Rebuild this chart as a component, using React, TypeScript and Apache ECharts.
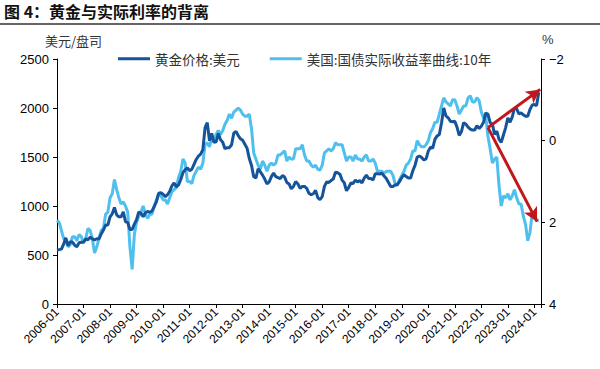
import React, { useEffect, useRef } from "react";
import * as echarts from "echarts";

const startYear = 2006;
const xMin = 2006;
const xMax = 2024.25;

const goldPrice = [
  550, 555, 560, 610, 675, 595, 635, 630, 600, 585, 625, 630,
  630, 665, 655, 680, 665, 655, 665, 665, 715, 755, 805, 805,
  890, 920, 985, 910, 890, 890, 940, 840, 830, 760, 760, 815,
  860, 940, 925, 890, 930, 945, 935, 950, 995, 1045, 1130, 1135,
  1120, 1095, 1115, 1150, 1205, 1235, 1195, 1215, 1270, 1340, 1370, 1390,
  1360, 1375, 1425, 1475, 1510, 1530, 1575, 1800, 1850, 1665, 1740, 1650,
  1655, 1740, 1675, 1650, 1585, 1595, 1595, 1625, 1745, 1760, 1720, 1685,
  1670, 1630, 1590, 1485, 1415, 1300, 1285, 1380, 1350, 1315, 1275, 1225,
  1245, 1300, 1335, 1300, 1290, 1280, 1310, 1295, 1240, 1225, 1175, 1200,
  1250, 1225, 1180, 1200, 1200, 1180, 1130, 1115, 1125, 1160, 1085, 1065,
  1095, 1200, 1245, 1240, 1260, 1275, 1345, 1340, 1325, 1265, 1235, 1155,
  1190, 1235, 1230, 1265, 1245, 1260, 1235, 1285, 1315, 1280, 1280, 1265,
  1330, 1330, 1325, 1335, 1305, 1280, 1240, 1200, 1200, 1215, 1220, 1250,
  1290, 1320, 1300, 1285, 1285, 1360, 1415, 1500, 1510, 1495, 1470, 1480,
  1560, 1600, 1590, 1680, 1715, 1730, 1850, 2000, 1920, 1900, 1865, 1860,
  1865, 1805, 1720, 1760, 1850, 1835, 1805, 1785, 1775, 1775, 1820, 1790,
  1815, 1855, 1950, 1935, 1850, 1835, 1730, 1765, 1680, 1650, 1725, 1800,
  1900, 1855, 1910, 2000, 1990, 1940, 1950, 1930, 1915, 1915, 1985, 2030,
  2035, 2025, 2160,
];

const realRate = [
  1.95, 2.0, 2.2, 2.4, 2.45, 2.6, 2.55, 2.35, 2.35, 2.45, 2.3, 2.35,
  2.5, 2.4, 2.15, 2.2, 2.4, 2.75, 2.6, 2.4, 2.2, 2.15, 1.8, 1.75,
  1.4, 1.3, 0.95, 1.2, 1.4, 1.55, 1.5, 1.6, 1.75, 2.6, 3.15, 2.3,
  2.0, 1.85, 1.75, 1.6, 1.8, 1.9, 1.8, 1.8, 1.6, 1.45, 1.3, 1.35,
  1.45, 1.45, 1.55, 1.4, 1.25, 1.2, 1.15, 0.9, 0.75, 0.45, 0.55, 1.0,
  1.0, 1.05, 0.85, 0.75, 0.65, 0.7, 0.55, 0.1, 0.05, 0.15, -0.05, -0.05,
  -0.15, -0.25, -0.15, -0.25, -0.4, -0.5, -0.65, -0.55, -0.7, -0.75, -0.8, -0.75,
  -0.65, -0.6, -0.6, -0.65, -0.3, 0.3, 0.45, 0.6, 0.7, 0.5, 0.6, 0.75,
  0.6, 0.55, 0.6, 0.55, 0.35, 0.35, 0.3, 0.25, 0.5, 0.4, 0.45, 0.45,
  0.2, 0.2, 0.2, 0.1, 0.35, 0.5, 0.5, 0.6, 0.65, 0.6, 0.7, 0.72,
  0.6, 0.3, 0.25, 0.2, 0.25, 0.2, 0.05, 0.1, 0.1, 0.1, 0.3, 0.5,
  0.4, 0.4, 0.5, 0.35, 0.45, 0.45, 0.5, 0.4, 0.35, 0.5, 0.5, 0.45,
  0.55, 0.75, 0.75, 0.75, 0.8, 0.75, 0.75, 0.75, 0.85, 1.05, 1.1, 0.95,
  0.85, 0.75, 0.6, 0.55, 0.45, 0.25, 0.25, 0.0, 0.1, 0.15, 0.15, 0.1,
  0.0, -0.2, -0.3, -0.45, -0.45, -0.65, -0.85, -1.05, -0.95, -0.9, -0.85, -1.0,
  -1.0, -0.85, -0.65, -0.75, -0.85, -0.85, -1.05, -1.1, -0.95, -0.95, -1.05, -0.98,
  -0.7, -0.55, -0.6, -0.1, 0.2, 0.55, 0.45, 0.4, 1.1, 1.6, 1.35, 1.4,
  1.3, 1.45, 1.35, 1.2, 1.4, 1.55, 1.55, 1.85, 2.05, 2.45, 2.25, 1.8,
  1.8, 1.95, 1.95,
];

const leftTicks = { min: 0, max: 2500, interval: 500 };
const rightTicks = { min: -2, max: 4, interval: 2 };

// arrow annotations in data coordinates [year, gold price]
const arrowStart = [2022.25, 1800];
const arrowUpEnd = [2024.22, 2190];
const arrowDownEnd = [2024.1, 840];

const monthX = (i: number) => startYear + i / 12;

export default function App() {
  const ref = useRef<HTMLDivElement>(null);
  useEffect(() => {
    if (!ref.current) return;
    const chart = echarts.init(ref.current, undefined, { renderer: "svg" });
    const numFont = "Arial, 'Liberation Sans', sans-serif";
    const cjkFont = "'Noto Sans CJK SC', sans-serif";
    chart.setOption({
      animation: false,
      backgroundColor: "#fff",
      grid: { left: 57, right: 59, top: 59, bottom: 65, containLabel: false, outerBoundsMode: "none" },
      legend: {
        left: 113,
        top: 47,
        icon: "rect",
        itemWidth: 32,
        itemHeight: 3,
        itemGap: 30,
        textStyle: { fontSize: 13.5, color: "#333", fontFamily: cjkFont },
        data: ["黄金价格:美元", "美国:国债实际收益率曲线:10年"],
      },
      xAxis: {
        type: "value",
        min: xMin,
        max: xMax,
        interval: 1,
        splitLine: { show: false },
        axisLine: { lineStyle: { color: "#000", width: 1 } },
        axisTick: { show: true, length: 4, lineStyle: { color: "#000" } },
        axisLabel: {
          rotate: 45,
          fontSize: 12,
          color: "#000",
          fontFamily: numFont,
          margin: 6,
          formatter: (v: number) => (Number.isInteger(v) ? `${v}-01` : ""),
        },
      },
      yAxis: [
        {
          type: "value",
          ...leftTicks,
          splitLine: { show: false },
          axisLine: { show: true, lineStyle: { color: "#000" } },
          axisTick: { show: true, length: 4, lineStyle: { color: "#000" } },
          axisLabel: {
            fontSize: 13,
            color: "#000",
            fontFamily: numFont,
            margin: 8,
            formatter: (v: number) => String(v),
          },
        },
        {
          type: "value",
          ...rightTicks,
          inverse: true,
          position: "right",
          splitLine: { show: false },
          axisLine: { show: true, lineStyle: { color: "#000" } },
          axisTick: { show: true, length: 4, lineStyle: { color: "#000" } },
          axisLabel: {
            fontSize: 13,
            color: "#000",
            fontFamily: numFont,
            margin: 8,
            formatter: (v: number) => String(v).replace("-", "\u2212"),
          },
        },
      ],
      series: [
        {
          name: "美国:国债实际收益率曲线:10年",
          type: "line",
          yAxisIndex: 1,
          showSymbol: false,
          symbol: "none",
          z: 2,
          lineStyle: { color: "#4fbfee", width: 3 },
          itemStyle: { color: "#4fbfee" },
          data: realRate.map((v, i) => [monthX(i), v]),
        },
        {
          name: "黄金价格:美元",
          type: "line",
          yAxisIndex: 0,
          showSymbol: false,
          symbol: "none",
          z: 3,
          lineStyle: { color: "#15549a", width: 3 },
          itemStyle: { color: "#15549a" },
          data: goldPrice.map((v, i) => [monthX(i), v]),
          markLine: {
            silent: true,
            symbol: ["none", "arrow"],
            symbolSize: [11, 14],
            label: { show: false },
            lineStyle: { color: "#c0171d", width: 3, type: "solid" },
            data: [
              [{ coord: arrowStart }, { coord: arrowUpEnd }],
              [{ coord: arrowStart }, { coord: arrowDownEnd }],
            ],
          },
        },
      ],
      graphic: [
        {
          type: "text",
          left: 4,
          top: 3,
          style: {
            text: "图 4：黄金与实际利率的背离",
            font: `bold 16px ${cjkFont}`,
            fill: "#111",
          },
        },
        {
          type: "line",
          shape: { x1: 0, y1: 24, x2: 600, y2: 24 },
          style: { stroke: "#333", lineWidth: 1.5 },
        },
        {
          type: "text",
          left: 45,
          top: 34,
          style: { text: "美元/盘司", font: `13px ${cjkFont}`, fill: "#333" },
        },
        {
          type: "text",
          left: 542,
          top: 33,
          style: { text: "%", font: `13px ${numFont}`, fill: "#333" },
        },
      ],
    });
    return () => chart.dispose();
  }, []);
  return (
    <div
      ref={ref}
      style={{ position: "fixed", left: 0, top: 0, width: 600, height: 369 }}
    />
  );
}
